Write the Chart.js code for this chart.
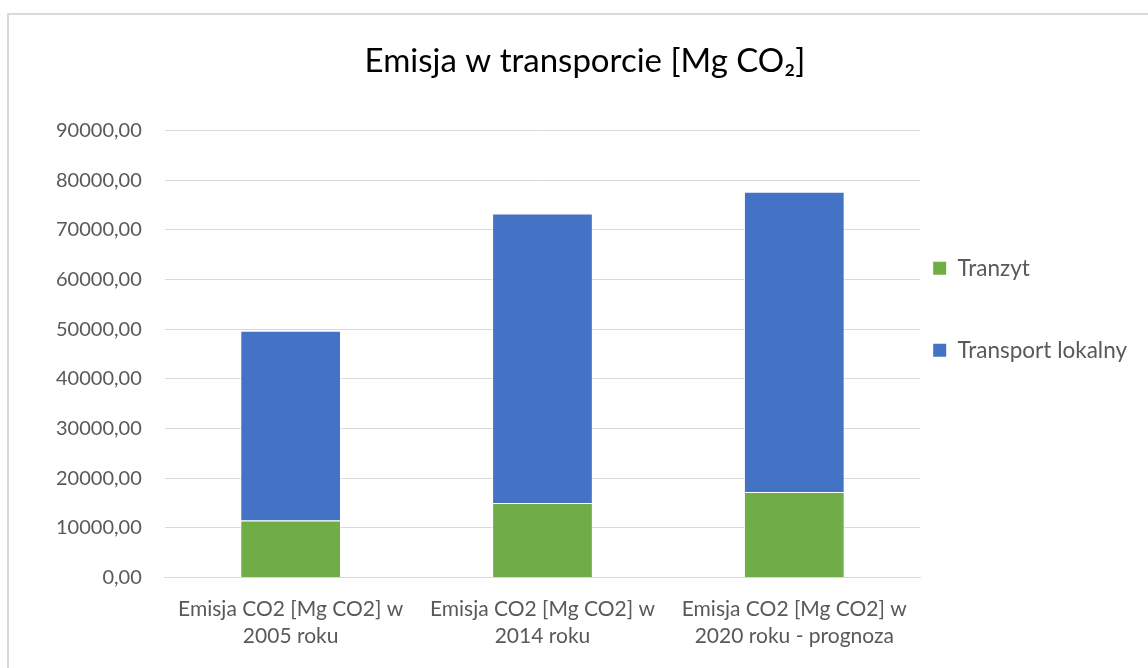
<!DOCTYPE html>
<html>
<head>
<meta charset="utf-8">
<script src="https://cdn.jsdelivr.net/npm/chart.js@4.4.0/dist/chart.umd.min.js"></script>
<style>
  html, body { margin: 0; padding: 0; background: #ffffff; overflow: hidden; }
  #wrap { position: absolute; left: 0; top: 0; width: 1148px; height: 668px; }
  #frame { position: absolute; left: 7px; top: 13px; width: 1200px; height: 700px;
           border-left: 2px solid #d9d9d9; border-top: 2px solid #d9d9d9; pointer-events: none; }
</style>
</head>
<body>
<div id="wrap"><canvas id="c" width="1148" height="668"></canvas></div>
<div id="frame"></div>
<script>
const chartTitle = 'Emisja w transporcie [Mg CO\u2082]';
const categories = [
  ['Emisja CO2 [Mg CO2] w', '2005 roku'],
  ['Emisja CO2 [Mg CO2] w', '2014 roku'],
  ['Emisja CO2 [Mg CO2] w', '2020 roku - prognoza']
];
const seriesNames = ['Tranzyt', 'Transport lokalny'];
const seriesColors = ['#70AD47', '#4472C4'];
const tranzyt = [11450, 15000, 17200];
const transportLokalny = [38250, 58300, 60500];
const yMin = 0, yMax = 90000, yStep = 10000;

const fontFamily = 'Lato, "Open Sans", sans-serif';
const gray = '#595959';

new Chart(document.getElementById('c'), {
  type: 'bar',
  data: {
    labels: categories,
    datasets: [
      { label: seriesNames[0], data: tranzyt, backgroundColor: seriesColors[0], borderColor: 'rgba(255,255,255,0.6)', borderWidth: 1 },
      { label: seriesNames[1], data: transportLokalny, backgroundColor: seriesColors[1], borderColor: 'rgba(255,255,255,0.6)', borderWidth: 1 }
    ]
  },
  options: {
    responsive: false,
    animation: false,
    devicePixelRatio: 1,
    layout: { padding: { left: 33, right: 11, top: 20, bottom: 8 } },
    datasets: { bar: { categoryPercentage: 0.8, barPercentage: 0.5 } },
    plugins: {
      title: {
        display: true, text: chartTitle, color: '#000000',
        font: { family: fontFamily, size: 33, weight: 'normal' },
        padding: { top: 22, bottom: 49 }
      },
      legend: {
        position: 'right',
        align: 'start',
        title: { display: true, text: ' ', font: { size: 10 }, padding: { top: 212, bottom: 0 } },
        labels: {
          boxWidth: 13, boxHeight: 13, padding: 13, color: gray,
          font: { family: fontFamily, size: 22.5, lineHeight: 3.067 },
          generateLabels: chart => chart.data.datasets.map((ds, i) => ({
            text: [ds.label],
            fillStyle: ds.backgroundColor,
            strokeStyle: ds.backgroundColor,
            lineWidth: 0,
            fontColor: gray,
            hidden: false,
            datasetIndex: i
          }))
        }
      },
      tooltip: { enabled: false }
    },
    scales: {
      x: {
        stacked: true,
        grid: { display: false },
        border: { display: true, color: '#d9d9d9' },
        ticks: { color: gray, font: { family: fontFamily, size: 21, lineHeight: 1.3 }, padding: 10, maxRotation: 0 }
      },
      y: {
        stacked: true,
        min: yMin, max: yMax,
        grid: { color: '#d9d9d9', lineWidth: 1, drawTicks: false },
        border: { display: false },
        ticks: {
          stepSize: yStep, color: gray, padding: 23,
          font: { family: fontFamily, size: 20 },
          callback: v => v.toFixed(2).replace('.', ',')
        }
      }
    }
  }
});
</script>
</body>
</html>
